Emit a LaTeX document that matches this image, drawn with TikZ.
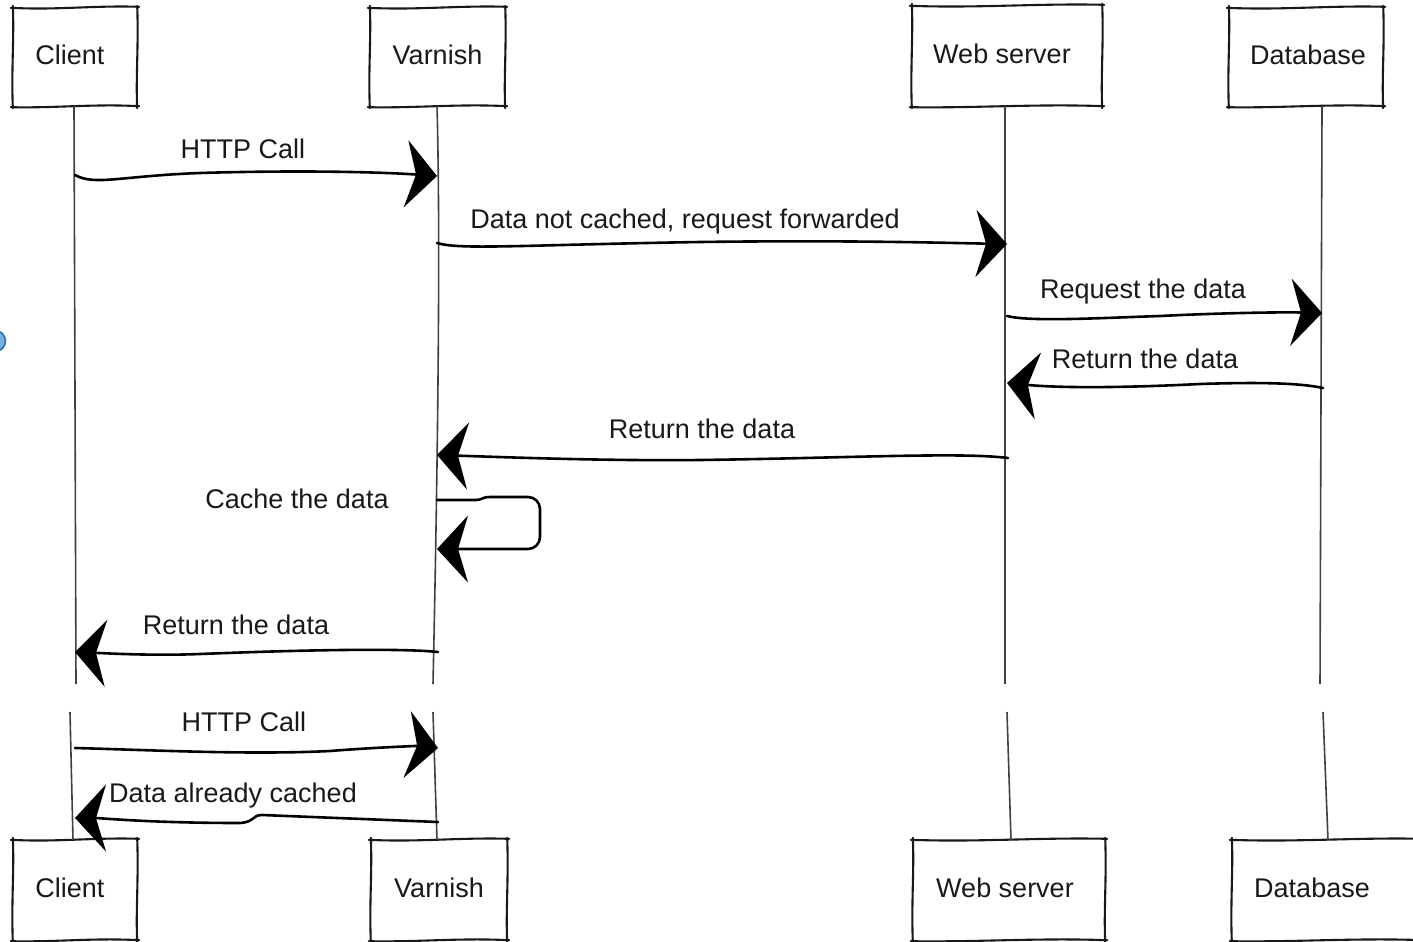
\documentclass[tikz,border=0pt]{standalone}
\usepackage{fontspec}
\setmainfont{Liberation Sans}
\usetikzlibrary{arrows.meta,calc}
\tikzset{
  actor/.style={draw=none, font=\fontsize{27}{32}\selectfont, text height=15.5pt, text depth=0pt, inner sep=0pt, text=black!90},
  boxline/.style={line width=2.1pt, line cap=round, line join=round, draw=black!90},
  life/.style={line width=1.6pt, draw=black!75},
  msg/.style={line width=2.6pt, line cap=round, -{Stealth[length=31pt,width=67pt,inset=10pt]}},
  lbl/.style={font=\fontsize{27}{32}\selectfont, anchor=base, inner sep=0pt, text=black!90}
}
\newcommand\skrect[2]{%
  \draw[boxline]
   ($(#1)+(-2,0)$) .. controls ($(#1)!0.35!(#1 -| #2)+(0,2.5)$) and ($(#1)!0.65!(#1 -| #2)+(0,-2.5)$) .. ($(#1 -| #2)+(2,-1)$)
   ($(#1 -| #2)+(0,-2)$) .. controls ($(#1 -| #2)!0.4!(#2)+(1.5,0)$) and ($(#1 -| #2)!0.7!(#2)+(-1.5,0)$) .. ($(#2)+(0,2)$)
   ($(#2)+(2,0)$) .. controls ($(#2)!0.35!(#2 -| #1)+(0,-2.5)$) and ($(#2)!0.65!(#2 -| #1)+(0,2)$) .. ($(#2 -| #1)+(-2,1)$)
   ($(#2 -| #1)+(0,2)$) .. controls ($(#2 -| #1)!0.4!(#1)+(-1.5,0)$) and ($(#2 -| #1)!0.7!(#1)+(1.5,0)$) .. ($(#1)+(0,-2)$);
}
\begin{document}
\begin{tikzpicture}[x=1pt,y=-1pt]
\useasboundingbox (0,0) rectangle (1413,942);
\fill[white] (0,0) rectangle (1413,942);

% stray blue marker at the left edge
\draw[line width=1.5pt, draw={rgb,255:red,40;green,110;blue,170}, fill={rgb,255:red,120;green,175;blue,225}] (-5,341) circle (10.5pt);

% top actors
\node[actor, minimum width=124pt, minimum height=98pt] (cl) at (75,57) {Client\hspace*{10pt}};
\node[actor, minimum width=135pt, minimum height=98pt] (va) at (437.5,57) {Varnish};
\node[actor, minimum width=190pt, minimum height=100pt] (ws) at (1007,56) {Web server\hspace*{10pt}};
\node[actor, minimum width=154pt, minimum height=98pt] (db) at (1306,57) {\hspace*{4pt}Database};
% bottom actors
\node[actor, minimum width=124pt, minimum height=100pt] (clb) at (75,890) {Client\hspace*{10pt}};
\node[actor, minimum width=136pt, minimum height=100pt] (vab) at (439,890) {Varnish};
\node[actor, minimum width=192pt, minimum height=100pt] (wsb) at (1009,890) {Web server\hspace*{8pt}};
\node[actor, minimum width=160pt, minimum height=100pt] (dbb) at (1312,890) {Database};

\skrect{cl.north west}{cl.south east}
\skrect{va.north west}{va.south east}
\skrect{ws.north west}{ws.south east}
\skrect{db.north west}{db.south east}
\skrect{clb.north west}{clb.south east}
\skrect{vab.north west}{vab.south east}
\skrect{wsb.north west}{wsb.south east}
\coordinate (dbbx) at ($(dbb.south east)+(30,0)$);
\skrect{dbb.north west}{dbbx}

% lifeline coordinates
\coordinate (clt) at (74,106);   \coordinate (clm) at (76,684);
\coordinate (clm2) at (70,712);  \coordinate (clbt) at (73,840);
\coordinate (vat) at (437,106);  \coordinate (vam) at (433,684);
\coordinate (vam2) at (433,712); \coordinate (vabt) at (437,840);
\coordinate (wst) at (1005,106); \coordinate (wsm) at (1005,684);
\coordinate (wsm2) at (1007,712);\coordinate (wsbt) at (1011,840);
\coordinate (dbt) at (1322,106); \coordinate (dbm) at (1320,684);
\coordinate (dbm2) at (1323,712);\coordinate (dbbt) at (1328,840);

\draw[life] (clt) -- (clm);  \draw[life] (clm2) -- (clbt);
\draw[life] (vat) .. controls (441,250) and (437,500) .. (vam);  \draw[life] (vam2) -- (vabt);
\draw[life] (wst) -- (wsm);  \draw[life] (wsm2) -- (wsbt);
\draw[life] (dbt) -- (dbm);  \draw[life] (dbm2) -- (dbbt);

% message end points
\coordinate (m1s) at (75,175);   \coordinate (m1e) at (437,176);
\coordinate (m2s) at (437,243);  \coordinate (m2e) at (1007,244);
\coordinate (m3s) at (1007,316); \coordinate (m3e) at (1322,313);
\coordinate (m4s) at (1323,388); \coordinate (m4e) at (1007,383);
\coordinate (m5s) at (1008,458); \coordinate (m5e) at (437,455);
\coordinate (m6s) at (437,500);  \coordinate (m6e) at (437,549);
\coordinate (m7s) at (438,652);  \coordinate (m7e) at (75,652);
\coordinate (m8s) at (75,748);   \coordinate (m8e) at (438,748);
\coordinate (m9s) at (438,822);  \coordinate (m9e) at (75,818);

\draw[msg] (m1s) .. controls (95,186) and (120,176) .. (200,173) .. controls (300,170) and (380,172) .. (m1e);
\draw[msg] (m2s) .. controls (460,250) and (520,245) .. (700,242) .. controls (850,240) and (950,243) .. (m2e);
\draw[msg] (m3s) .. controls (1030,322) and (1100,318) .. (1160,316) .. controls (1220,313) and (1280,312) .. (m3e);
\draw[msg] (m4s) .. controls (1300,383) and (1260,382) .. (1200,384) .. controls (1120,388) and (1060,388) .. (m4e);
\draw[msg] (m5s) .. controls (960,452) and (850,458) .. (700,460) .. controls (600,461) and (500,457) .. (m5e);
\draw[msg] (m6s) -- (476,500) .. controls (482,500) and (482,497) .. (490,497) [rounded corners=12pt] -- (540,497) -- (540,549) -- (m6e);
\draw[msg] (m7s) .. controls (400,648) and (300,650) .. (200,654) .. controls (150,656) and (100,653) .. (m7e);
\draw[msg] (m8s) .. controls (150,750) and (250,755) .. (330,751) .. controls (380,747) and (420,746) .. (m8e);
\draw[msg] (m9s) -- (262,815) .. controls (252,815) and (255,822) .. (240,823) .. controls (150,823) and (100,818) .. (m9e);

% labels
\node[lbl] (l1) at (243,158.5) {HTTP Call};
\node[lbl] (l2) at (685,228.5) {Data not cached, request forwarded};
\node[lbl] (l3) at (1143,298.5) {Request the data};
\node[lbl] (l4) at (1145,368.5) {Return the data};
\node[lbl] (l5) at (702,438.5) {Return the data};
\node[lbl] (l6) at (297,508.5) {Cache the data};
\node[lbl] (l7) at (236,634.5) {Return the data};
\node[lbl] (l8) at (244,731.5) {HTTP Call};
\node[lbl] (l9) at (233,802.5) {Data already cached};
\end{tikzpicture}
\end{document}
